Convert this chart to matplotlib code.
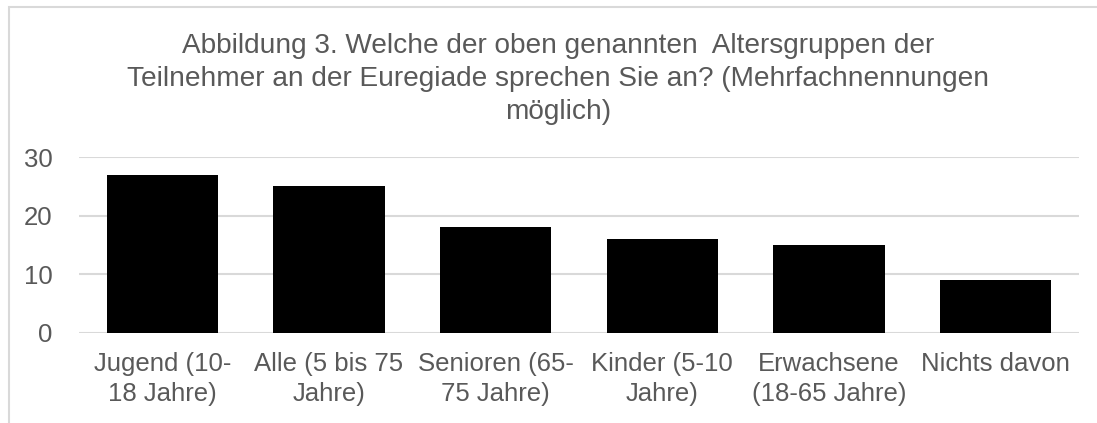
import matplotlib.pyplot as plt
from matplotlib.patches import Rectangle

# data
categories = ["Jugend (10-\n18 Jahre)", "Alle (5 bis 75\nJahre)", "Senioren (65-\n75 Jahre)",
              "Kinder (5-10\nJahre)", "Erwachsene\n(18-65 Jahre)", "Nichts davon"]
counts = [27, 25, 18, 16, 15, 9]
yticks = [0, 10, 20, 30]

title = ("Abbildung 3. Welche der oben genannten  Altersgruppen der\n"
         "Teilnehmer an der Euregiade sprechen Sie an? (Mehrfachnennungen\n"
         "möglich)")

plt.rcParams['font.family'] = ['Liberation Sans', 'DejaVu Sans']
grey = "#595959"

fig = plt.figure(figsize=(10.97, 4.23), dpi=100)
ax = fig.add_axes([0.072, 0.2128, 0.9116, 0.416])

x = range(len(counts))
ax.bar(x, counts, width=0.667, color="black", zorder=3)

ax.set_xlim(-0.5, len(counts) - 0.5)
ax.set_ylim(0, 30)
ax.set_yticks(yticks)
ax.set_xticks(list(x))
ax.set_xticklabels(categories, fontsize=18.5, color=grey, linespacing=1.3)
ax.tick_params(axis="y", labelsize=18.5, labelcolor=grey, length=0, pad=19)
ax.tick_params(axis="x", length=0, pad=14)
ax.grid(axis="y", color="#d9d9d9", linewidth=1.5, zorder=0)
for s in ax.spines.values():
    s.set_visible(False)

# title is centred on the whole chart frame, which runs past the right edge
fig.text(0.5087, 0.922, title, ha="center", va="top", fontsize=20.15, color=grey,
         linespacing=1.36)

# chart frame (right and bottom edges fall outside the picture)
fig.patches.append(Rectangle((9 / 1097, -0.05), 1.1, 1 - 7 / 423 + 0.05,
                             transform=fig.transFigure, fill=False,
                             edgecolor="#d9d9d9", linewidth=1.5))

fig.savefig("out.png", dpi=100)
